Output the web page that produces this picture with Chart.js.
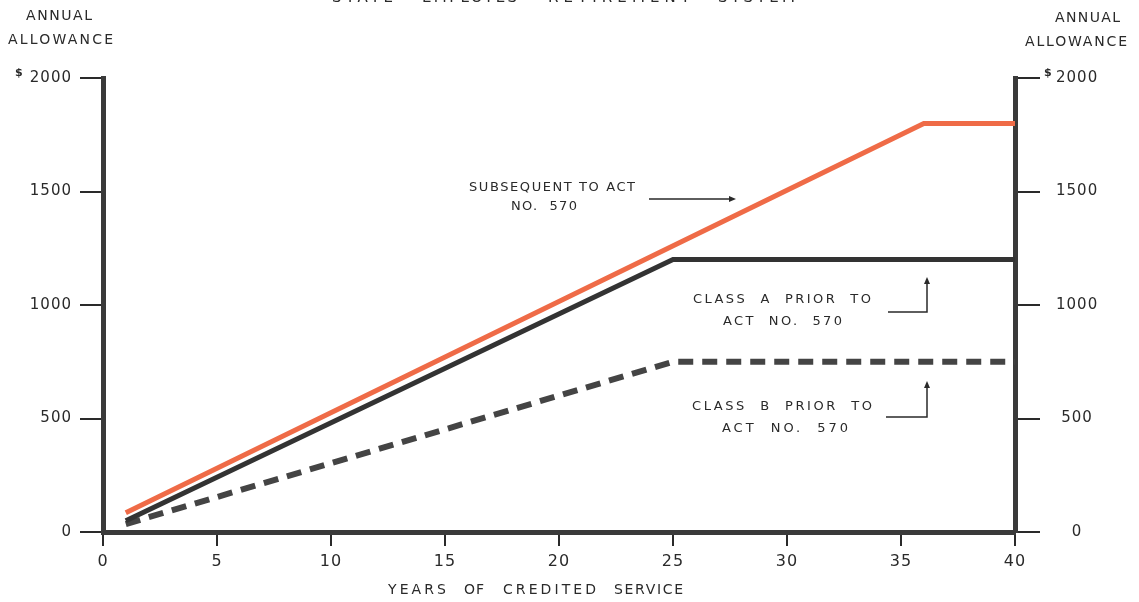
<!DOCTYPE html>
<html>
<head>
<meta charset="utf-8">
<script src="https://cdn.jsdelivr.net/npm/chart.js@4.4.1/dist/chart.umd.min.js"></script>
<style>
    html, body { margin: 0; padding: 0; background: #fff; }
    canvas { display: block; }
</style>
</head>
<body>
<canvas id="chart" width="1139" height="602"></canvas>
<script>
// values
const subsequentYears = [1, 36, 40];
const subsequentAllowance = [85, 1800, 1800];
const classAYears = [1, 25, 40];
const classAAllowance = [50, 1200, 1200];
const classBYears = [1, 25, 40];
const classBAllowance = [35, 750, 750];
const xTickValues = [0, 5, 10, 15, 20, 25, 30, 35, 40];
const yTickValues = [0, 500, 1000, 1500, 2000];

const INK = '#2a2a2a';
const toPoints = (xs, ys) => xs.map((x, i) => ({ x: x, y: ys[i] }));

// draw a word stretched between two x positions
function spaced(ctx, text, x1, x2, y, size) {
    ctx.font = `${size}px "DejaVu Sans"`;
    ctx.letterSpacing = '0px';
    const w = ctx.measureText(text).width;
    const ls = text.length > 1 ? (x2 - x1 - w) / (text.length - 1) : 0;
    ctx.letterSpacing = ls + 'px';
    ctx.textAlign = 'left';
    ctx.textBaseline = 'middle';
    ctx.fillText(text, x1, y);
}

function arrowHead(ctx, x, y, dir) {
    ctx.beginPath();
    if (dir === 'right') {
        ctx.moveTo(x, y); ctx.lineTo(x - 7, y - 3); ctx.lineTo(x - 7, y + 3);
    } else {
        ctx.moveTo(x, y); ctx.lineTo(x - 3, y + 7); ctx.lineTo(x + 3, y + 7);
    }
    ctx.closePath();
    ctx.fill();
}

const labelsPlugin = {
    id: 'labels',
    beforeDraw(chart) {
        chart.ctx.letterSpacing = '1px';
    },
    afterDraw(chart) {
        const ctx = chart.ctx;
        ctx.save();
        ctx.fillStyle = INK;
        ctx.strokeStyle = INK;

        // title, mostly cut off at the top
        spaced(ctx, 'STATE', 332, 393, -2, 15);
        spaced(ctx, 'EMPLOYES', 422, 517, -2, 15);
        spaced(ctx, 'RETIREMENT', 548, 690, -2, 15);
        spaced(ctx, 'SYSTEM', 718, 795, -2, 15);

        // axis titles
        spaced(ctx, 'ANNUAL', 26, 92, 16, 14);
        spaced(ctx, 'ALLOWANCE', 8, 113, 40, 14);
        spaced(ctx, 'ANNUAL', 1055, 1120, 18, 14);
        spaced(ctx, 'ALLOWANCE', 1025, 1127, 42, 14);
        ctx.font = 'bold 11px "DejaVu Sans"';
        ctx.letterSpacing = '0px';
        ctx.fillText('$', 15, 73);
        ctx.fillText('$', 1044, 73);
        spaced(ctx, 'YEARS', 388, 446, 590, 14);
        spaced(ctx, 'OF', 464, 484, 590, 14);
        spaced(ctx, 'CREDITED', 503, 596, 590, 14);
        spaced(ctx, 'SERVICE', 614, 683, 590, 14);

        // annotations
        spaced(ctx, 'SUBSEQUENT TO ACT', 469, 635, 188, 13);
        spaced(ctx, 'NO.  570', 511, 577, 207, 13);
        spaced(ctx, 'CLASS  A  PRIOR  TO', 693, 871, 300, 13);
        spaced(ctx, 'ACT  NO.  570', 723, 842, 322, 13);
        spaced(ctx, 'CLASS  B  PRIOR  TO', 692, 872, 407, 13);
        spaced(ctx, 'ACT  NO.  570', 722, 848, 429, 13);

        ctx.lineWidth = 1.5;
        ctx.beginPath();
        ctx.moveTo(649, 199); ctx.lineTo(733, 199);
        ctx.moveTo(888, 312); ctx.lineTo(927, 312); ctx.lineTo(927, 281);
        ctx.moveTo(886, 417); ctx.lineTo(927, 417); ctx.lineTo(927, 385);
        ctx.stroke();
        arrowHead(ctx, 736, 199, 'right');
        arrowHead(ctx, 927, 277, 'up');
        arrowHead(ctx, 927, 381, 'up');
        ctx.restore();
    }
};

const tickFont = { family: '"DejaVu Sans"', size: 15 };
const plainNumber = (v) => String(v);

new Chart(document.getElementById('chart'), {
    type: 'line',
    data: {
        datasets: [{
            label: 'Subsequent to Act No. 570',
            data: toPoints(subsequentYears, subsequentAllowance),
            borderColor: '#ef6b47',
            borderWidth: 5,
            pointRadius: 0,
            tension: 0,
            yAxisID: 'y'
        }, {
            label: 'Class A prior to Act No. 570',
            data: toPoints(classAYears, classAAllowance),
            borderColor: '#333333',
            borderWidth: 5,
            pointRadius: 0,
            tension: 0,
            yAxisID: 'y'
        }, {
            label: 'Class B prior to Act No. 570',
            data: toPoints(classBYears, classBAllowance),
            borderColor: '#444444',
            borderWidth: 6,
            borderDash: [15, 9],
            pointRadius: 0,
            tension: 0,
            yAxisID: 'y'
        }]
    },
    options: {
        responsive: false,
        animation: false,
        devicePixelRatio: 1,
        layout: { padding: { top: 78, left: 0, right: 0, bottom: 0 } },
        plugins: {
            legend: { display: false },
            tooltip: { enabled: false }
        },
        scales: {
            x: {
                type: 'linear',
                min: 0,
                max: 40,
                afterBuildTicks: (s) => { s.ticks = xTickValues.map(v => ({ value: v })); },
                afterFit: (s) => { s.height = 70; },
                border: { color: '#3a3a3a', width: 5 },
                grid: { drawOnChartArea: false, tickLength: 14, color: INK, lineWidth: 2 },
                ticks: { color: INK, font: { family: '"DejaVu Sans"', size: 16 }, padding: 6, maxRotation: 0, callback: plainNumber }
            },
            y: {
                position: 'left',
                min: 0,
                max: 2000,
                afterBuildTicks: (s) => { s.ticks = yTickValues.map(v => ({ value: v })); },
                afterFit: (s) => { s.width = 103; },
                border: { color: '#3a3a3a', width: 5 },
                grid: { drawOnChartArea: false, tickLength: 23, color: INK, lineWidth: 2 },
                ticks: { color: INK, font: tickFont, padding: 8, callback: plainNumber }
            },
            y2: {
                position: 'right',
                min: 0,
                max: 2000,
                afterBuildTicks: (s) => { s.ticks = yTickValues.map(v => ({ value: v })); },
                afterFit: (s) => { s.width = 124; },
                border: { color: '#3a3a3a', width: 5 },
                grid: { drawOnChartArea: false, tickLength: 25, color: INK, lineWidth: 2 },
                ticks: { color: INK, font: tickFont, padding: 18, crossAlign: 'center', callback: plainNumber }
            }
        }
    },
    plugins: [labelsPlugin]
});
</script>
</body>
</html>
